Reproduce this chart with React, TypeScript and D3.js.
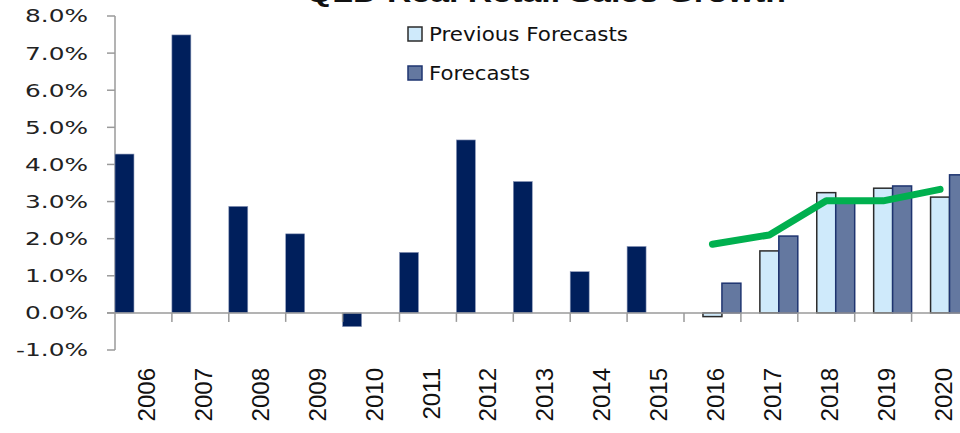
import React from "react";
import * as d3 from "d3";

const years = ["2006","2007","2008","2009","2010","2011","2012","2013","2014","2015","2016","2017","2018","2019","2020"];
const actual: (number | null)[] = [4.28, 7.49, 2.87, 2.13, -0.37, 1.63, 4.66, 3.54, 1.11, 1.79, null, null, null, null, null];
const previousForecasts: (number | null)[] = [null, null, null, null, null, null, null, null, null, null, -0.1, 1.67, 3.24, 3.36, 3.12];
const forecasts: (number | null)[] = [null, null, null, null, null, null, null, null, null, null, 0.8, 2.07, 2.98, 3.42, 3.72];
const greenLine: (number | null)[] = [null, null, null, null, null, null, null, null, null, null, 1.85, 2.1, 3.02, 3.02, 3.33];
const yTicks = [-1, 0, 1, 2, 3, 4, 5, 6, 7, 8];
const seriesKeys = ["actual", "previous", "forecast"];
const title = "QLD Real Retail Sales Growth";

export default function App() {
  const W = 960, H = 433;
  const x0 = 115, step = 56.9;
  const x = d3.scaleBand<string>().domain(years).range([x0, x0 + step * years.length]).padding(0);
  const xs = d3.scaleBand<string>().domain(seriesKeys).range([0, x.bandwidth()]).padding(0);
  const y = d3.scaleLinear().domain([-1, 8]).range([350, 16]);
  const y0 = y(0);
  const axisColor = "#9a9a9a";

  const bar = (v: number | null, year: string, key: string, fill: string, stroke: string, sw: number) => {
    if (v == null) return null;
    const bx = (x(year) as number) + (xs(key) as number);
    const top = Math.min(y(v), y0);
    const h = Math.abs(y(v) - y0);
    return <rect key={key + year} x={bx} y={top} width={xs.bandwidth()} height={h} fill={fill} stroke={stroke} strokeWidth={sw} />;
  };

  const lineData = years.map((yr, i) => ({ yr, v: greenLine[i] })).filter(d => d.v != null) as { yr: string; v: number }[];
  const line = d3.line<{ yr: string; v: number }>()
    .x(d => (x(d.yr) as number) + x.bandwidth() / 2)
    .y(d => y(d.v));

  return (
    <svg width={W} height={H} style={{ position: "absolute", left: 0, top: 0, background: "#fff" }}>
      <text x={546} y={1.5} textAnchor="middle" fontFamily="'Liberation Sans', Arial, sans-serif" fontWeight="bold" fontSize={26} fill="#111" textLength={480} lengthAdjust="spacingAndGlyphs">{title}</text>

      {/* axes */}
      <line x1={x0} x2={x0} y1={y(8)} y2={y(-1)} stroke={axisColor} strokeWidth={1.5} />
      {yTicks.map(t => (
        <g key={t}>
          <line x1={x0 - 8} x2={x0} y1={y(t)} y2={y(t)} stroke={axisColor} strokeWidth={1.5} />
          <text x={88} y={y(t)} dy="0.36em" textAnchor="end" fontFamily="'DejaVu Sans', sans-serif" fontSize={18} fill="#222" textLength={t < 0 ? 72 : 63} lengthAdjust="spacingAndGlyphs">{t.toFixed(1) + "%"}</text>
        </g>
      ))}

      {years.map((yr, i) => (
        <g key={yr}>
          {bar(actual[i], yr, "actual", "#001F5C", "#8a97b8", 0.6)}
          {bar(previousForecasts[i], yr, "previous", "#CFEAFB", "#2b2b2b", 1.5)}
          {bar(forecasts[i], yr, "forecast", "#6478A0", "#1E3470", 1.5)}
        </g>
      ))}

      <line x1={x0 - 8} x2={W} y1={y0} y2={y0} stroke={axisColor} strokeWidth={1.5} />
      {years.map(yr => (
        <line key={"t" + yr} x1={(x(yr) as number) + x.bandwidth()} x2={(x(yr) as number) + x.bandwidth()} y1={y0} y2={y0 + 9} stroke={axisColor} strokeWidth={1.5} />
      ))}
      {years.map(yr => {
        const cx = (x(yr) as number) + x.bandwidth() / 2 + 3;
        return (
          <text key={"l" + yr} transform={`translate(${cx},368) rotate(-90)`} textAnchor="end" dy="0.36em" fontFamily="'Liberation Sans', Arial, sans-serif" fontSize={24} fill="#111">{yr}</text>
        );
      })}

      <path d={line(lineData) || ""} fill="none" stroke="#00B04F" strokeWidth={7} strokeLinecap="round" strokeLinejoin="round" />

      {/* legend */}
      <rect x={408} y={27} width={14} height={14} fill="#CFEAFB" stroke="#2b2b2b" strokeWidth={1.5} />
      <text x={429} y={34} dy="0.36em" fontFamily="'DejaVu Sans', sans-serif" fontSize={19} fill="#111" textLength={199} lengthAdjust="spacingAndGlyphs">Previous Forecasts</text>
      <rect x={408} y={66} width={14} height={14} fill="#6478A0" stroke="#1E3470" strokeWidth={1.5} />
      <text x={429} y={73} dy="0.36em" fontFamily="'DejaVu Sans', sans-serif" fontSize={19} fill="#111" textLength={101} lengthAdjust="spacingAndGlyphs">Forecasts</text>
    </svg>
  );
}
